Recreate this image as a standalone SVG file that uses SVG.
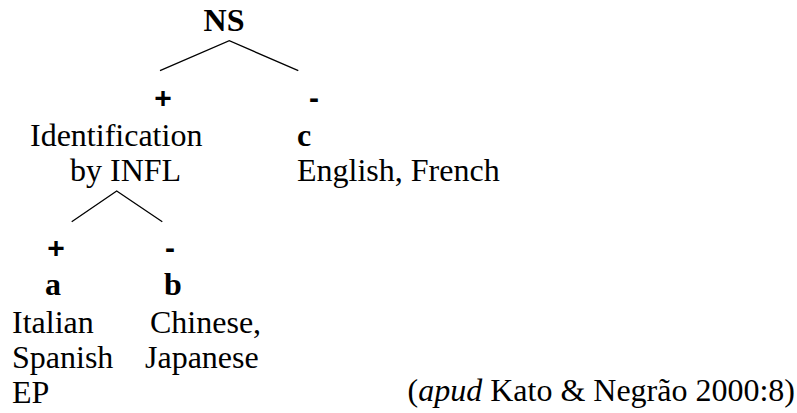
<svg xmlns="http://www.w3.org/2000/svg" width="797" height="413" viewBox="0 0 797 413">
<style>
.t{font-size:32px;fill:#000}
.b{font-weight:bold}
.s{font-family:'Liberation Sans',Arial,sans-serif;font-size:30px;font-weight:bold;fill:#000}
.e{stroke:#000;stroke-width:1.3;fill:none}
</style>
<rect width="797" height="413" fill="#fff"/>
<g id="connectors">
<polyline class="e" points="160,70.7 229.3,40.7 298.3,70.7"/>
<polyline class="e" points="71.7,221.7 116.7,191 162.3,221.7"/>
</g>
<g font-family="'Liberation Serif', 'Times New Roman', Times, serif">
<g id="ns"><text class="t b" x="224" y="31" text-anchor="middle">NS</text></g>
<g id="identification">
<text class="t" x="30" y="146">Identification</text>
<text class="t" x="70" y="181">by INFL</text>
</g>
<g id="c">
<text class="t b" x="297" y="146">c</text>
<text class="t" x="297" y="181">English, French</text>
</g>
<g id="a">
<text class="t b" x="45" y="295">a</text>
<text class="t" x="12" y="333">Italian</text>
<text class="t" x="12" y="368">Spanish</text>
<text class="t" x="12" y="403">EP</text>
</g>
<g id="b">
<text class="t b" x="164" y="295">b</text>
<text class="t" x="150" y="333">Chinese,</text>
<text class="t" x="145" y="368">Japanese</text>
</g>
<g id="citation"><text class="t" x="795" y="401" text-anchor="end">(<tspan font-style="italic">apud</tspan> Kato &amp; Negrão 2000:8)</text></g>
</g>
<g id="plus1"><text class="s" x="163" y="108" text-anchor="middle">+</text></g>
<g id="minus1"><text class="s" x="314" y="108" text-anchor="middle">-</text></g>
<g id="plus2"><text class="s" x="56" y="258" text-anchor="middle">+</text></g>
<g id="minus2"><text class="s" x="170" y="258" text-anchor="middle">-</text></g>
</svg>
